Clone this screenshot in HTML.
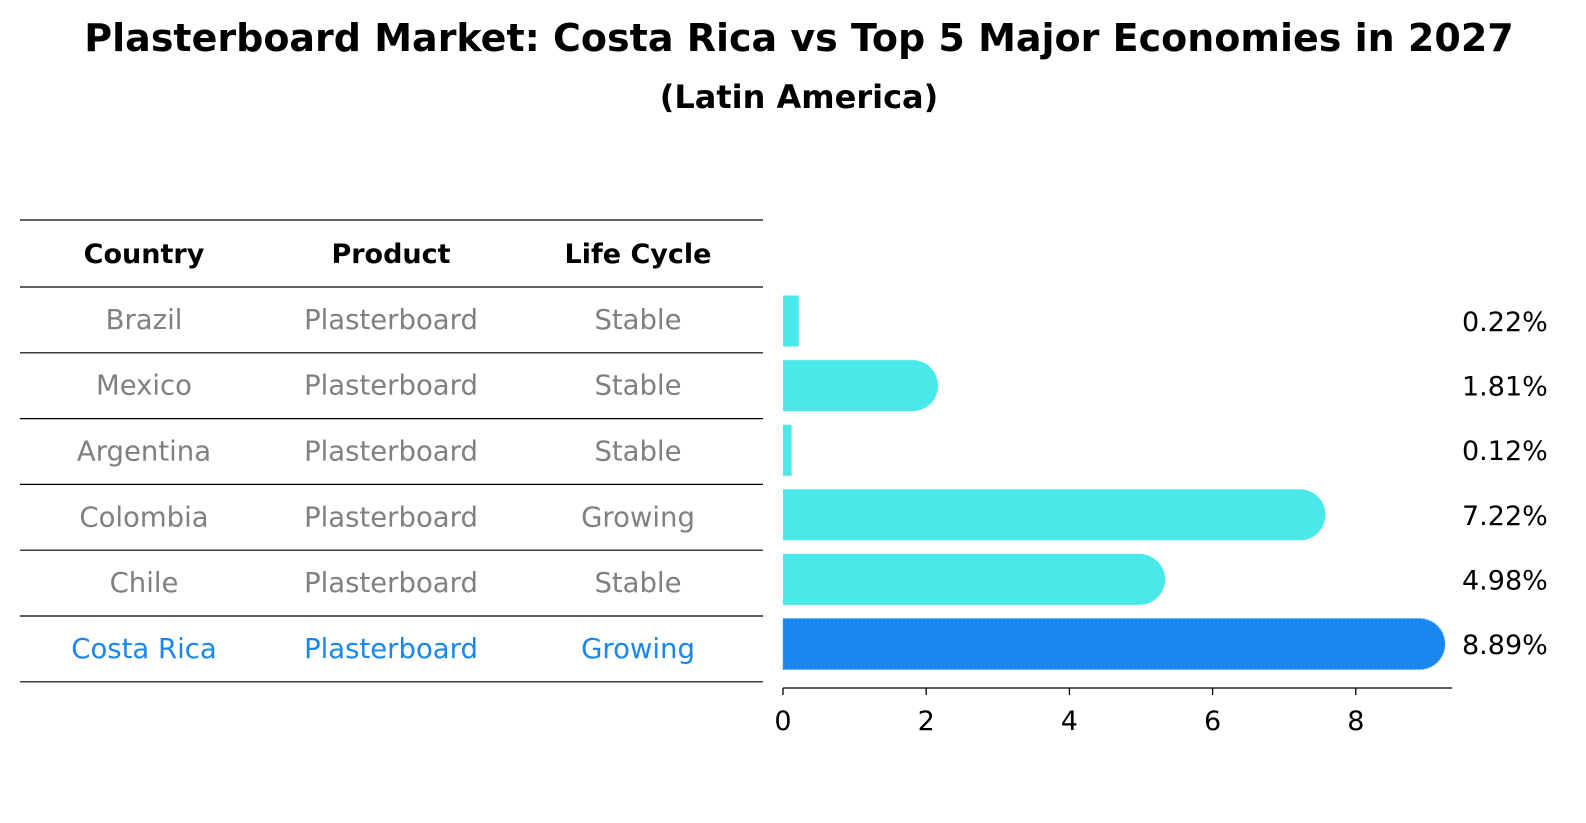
<!DOCTYPE html>
<html><head><meta charset="utf-8"><style>
body{margin:0;background:#fff;font-family:"Liberation Sans","DejaVu Sans",sans-serif;}
#wrap{position:relative;width:1586px;height:823px;overflow:hidden;}
</style></head><body>
<div id="wrap">
<svg id="svg" width="1586" height="823" style="position:absolute;left:0;top:0">
<text x="799" y="51" text-anchor="middle" font-size="38" font-weight="bold" font-family="DejaVu Sans, sans-serif">Plasterboard Market: Costa Rica vs Top 5 Major Economies in 2027</text>
<text x="799" y="108" text-anchor="middle" font-size="32" font-weight="bold" font-family="DejaVu Sans, sans-serif">(Latin America)</text>
</svg>
</div>
<script>
const countries=["Brazil","Mexico","Argentina","Colombia","Chile","Costa Rica"];
const products=["Plasterboard","Plasterboard","Plasterboard","Plasterboard","Plasterboard","Plasterboard"];
const lifeCycles=["Stable","Stable","Stable","Growing","Stable","Growing"];
const values=[0.22,1.81,0.12,7.22,4.98,8.89];
const valueLabels=["0.22%","1.81%","0.12%","7.22%","4.98%","8.89%"];
const xTicks=[0,2,4,6,8];

const NS="http://www.w3.org/2000/svg";
const svg=document.getElementById('svg');
function el(tag,attrs,parent){const e=document.createElementNS(NS,tag);for(const k in attrs)e.setAttribute(k,attrs[k]);(parent||svg).appendChild(e);return e;}
const x0=783,pxPerUnit=71.6;
const xScale=v=>x0+v*pxPerUnit;
const rowTop=287,rowH=65.8;
const rowY=i=>rowTop+rowH*(i+0.5);
const FONT="DejaVu Sans, sans-serif";
for(let i=0;i<=countries.length+1;i++){
  const y=i==0?220:rowTop+rowH*(i-1);
  const l=el('line',{x1:20,x2:763,y1:y,y2:y,stroke:'#000','stroke-width':1.2});
  
  
}
const colX=[144,391,638];
["Country","Product","Life Cycle"].forEach((h,j)=>{
  const t=el('text',{x:colX[j],y:263,'text-anchor':'middle','font-size':27,'font-weight':'bold','font-family':FONT});
  
  
  t.textContent=h;
});
countries.forEach((c,i)=>{
  const hi=c==="Costa Rica";
  const col=hi?'#1a86f0':'#808080';
  [c,products[i],lifeCycles[i]].forEach((v,j)=>{
    const t=el('text',{x:colX[j],y:rowY(i)+9,'text-anchor':'middle','font-size':27.5,fill:col,'font-family':FONT});
    
    
    t.textContent=v;
  });
});
const r=25.5;
const barCenters=i=>321+64.6*i;
values.forEach((v,i)=>{
  const hi=countries[i]==="Costa Rica";
  const col=hi?'#1a86f0':'#4ae9e9';
  const cy=barCenters(i),xe=xScale(v);
  let d;
  if(v>1){d=`M${x0},${cy-r} L${xe},${cy-r} A${r},${r} 0 0 1 ${xe},${cy+r} L${x0},${cy+r} Z`;}
  else{d=`M${x0},${cy-r} L${xe},${cy-r} L${xe},${cy+r} L${x0},${cy+r} Z`;}
  const p=el('path',{d:d,fill:col});
  if(hi){p.setAttribute('stroke','#5aa8f0');p.setAttribute('stroke-dasharray','2,2');p.setAttribute('stroke-width','1');}
  
  
  const t=el('text',{x:1462,y:cy+10,'font-size':27,'font-family':FONT});
  
  
  t.textContent=valueLabels[i];
});
const ax=el('line',{x1:x0,x2:1452,y1:688,y2:688,stroke:'#000','stroke-width':1.3});


xTicks.forEach(v=>{
  const x=xScale(v);
  const tk=el('line',{x1:x,x2:x,y1:688,y2:695,stroke:'#000','stroke-width':1.3});
  
  
  const t=el('text',{x:x,y:730,'text-anchor':'middle','font-size':27,'font-family':FONT});
  
  
  t.textContent=v;
});
</script>
</body></html>
